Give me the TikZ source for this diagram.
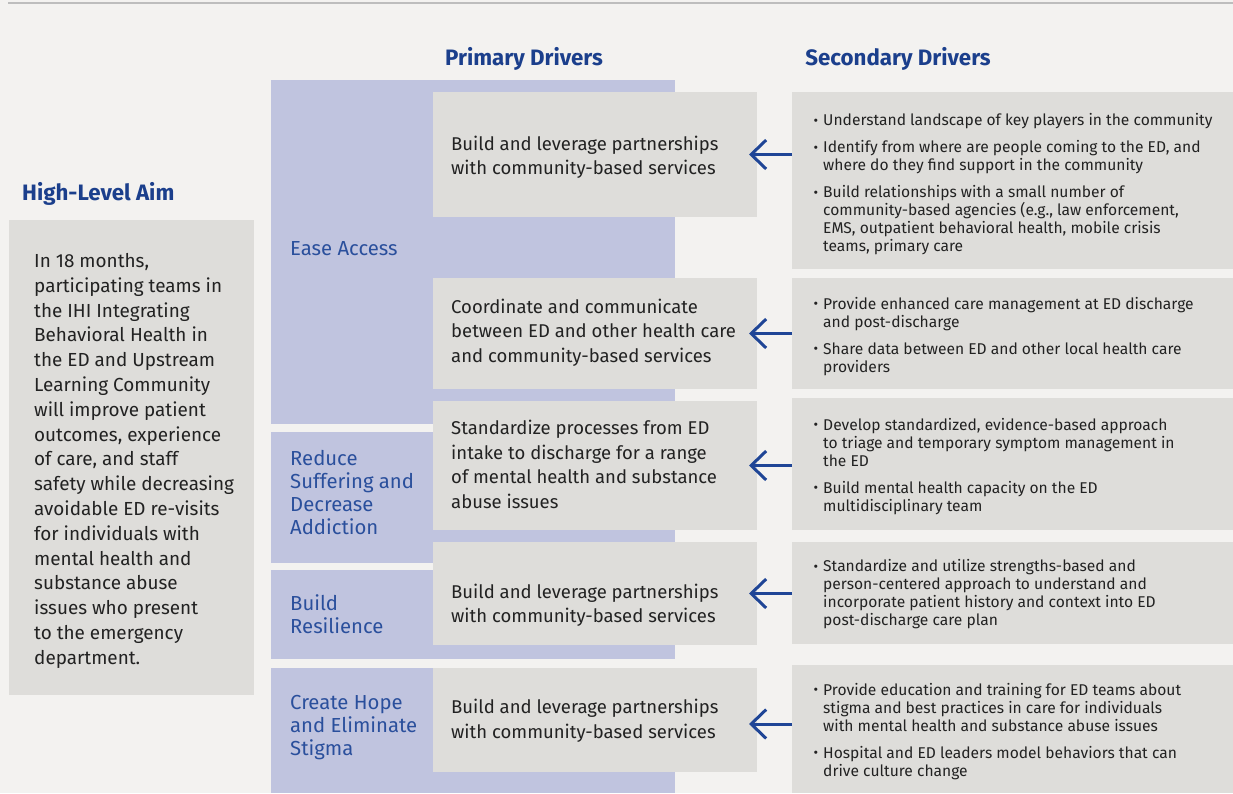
\documentclass[tikz,border=0pt]{standalone}
\usepackage{fontspec}
\setmainfont{Fira Sans}
\usetikzlibrary{arrows.meta}
\definecolor{bgc}{HTML}{F3F2F0}
\definecolor{boxc}{HTML}{DEDDDA}
\definecolor{purp}{HTML}{C0C4DF}
\definecolor{hdrc}{HTML}{1B3F8C}
\definecolor{lblc}{HTML}{2A4F9C}
\definecolor{txtc}{HTML}{222222}
\definecolor{arrc}{HTML}{1F4596}
\definecolor{linec}{HTML}{BDBDBD}
\newcommand{\sdbul}{\makebox[9pt][l]{\hspace*{-0.5pt}\raisebox{0.5pt}{\fontsize{14}{14}\selectfont •}}}
\newcommand{\sdind}{\hspace*{9pt}}
\begin{document}
\begin{tikzpicture}[x=1pt,y=-1pt,
  rect/.style 2 args={minimum width=#1pt, minimum height=#2pt, inner sep=0pt, outer sep=0pt, anchor=north west, draw=none},
  gbox/.style={fill=boxc},
  pblk/.style={fill=purp},
  hdr/.style={font=\fontsize{22.3}{25}\selectfont\bfseries, text=hdrc, inner sep=0pt},
  ptxt/.style={anchor=north west, inner sep=0pt, align=left, text=txtc, font=\fontsize{18.5}{24.6}\selectfont},
  atxt/.style={anchor=north west, inner sep=0pt, align=left, text=txtc, font=\fontsize{18.9}{24.8}\selectfont},
  ltxt/.style={anchor=north west, inner sep=0pt, align=left, text=lblc, font=\fontsize{20.3}{23.2}\selectfont},
  stxt/.style={anchor=north west, inner sep=0pt, align=left, text=txtc, font=\fontsize{15.6}{18}\selectfont},
  arr/.style={draw=arrc, line width=3pt, -{Straight Barb[length=15pt,width=29pt,line width=3pt]}}
]
\useasboundingbox (0,0) rectangle (1233,793);
\fill[bgc] (0,0) rectangle (1233,793);
\draw[linec, line width=1.5pt] (8,3) -- (1233,3);

% headers
\node[hdr, anchor=base] (hp) at (524,65.7) {Primary Drivers};
\node[hdr, anchor=base] (hs) at (898,65.7) {Secondary Drivers};
\node[hdr, anchor=base west] (ha) at (22,200.7) {High-Level Aim};

% aim
\node[rect={245}{475}, gbox] (aim) at (9,220) {};
\node[atxt] (aimt) at (34,248.4) {\rule{0pt}{18.9pt}In 18 months,\\
participating teams in\\
the IHI Integrating\\
Behavioral Health in\\
the ED and Upstream\\
Learning Community\\
will improve patient\\
outcomes, experience\\
of care, and staff\\
safety while decreasing\\
avoidable ED re-visits\\
for individuals with\\
mental health and\\
substance abuse\\
issues who present\\
to the emergency\\
department.};

% purple blocks
\node[rect={404}{344}, pblk] (b1) at (271,80) {};
\node[rect={404}{131}, pblk] (b2) at (271,432) {};
\node[rect={404}{89}, pblk] (b3) at (271,570) {};
\node[rect={404}{125}, pblk] (b4) at (271,668) {};

\node[ltxt] (l1) at (290,234.7) {\rule{0pt}{20.3pt}Ease Access};
\node[ltxt] (l2) at (290,444.7) {\rule{0pt}{20.3pt}Reduce\\Suffering and\\Decrease\\Addiction};
\node[ltxt] (l3) at (290,589.7) {\rule{0pt}{20.3pt}Build\\Resilience};
\node[ltxt] (l4) at (290,689) {\rule{0pt}{20.3pt}Create Hope\\and Eliminate\\Stigma};

% primary boxes
\node[rect={324}{125}, gbox] (p1) at (433,92) {};
\node[rect={324}{111}, gbox] (p2) at (433,278) {};
\node[rect={324}{129}, gbox] (p3) at (433,401) {};
\node[rect={324}{103}, gbox] (p4) at (433,542) {};
\node[rect={324}{104}, gbox] (p5) at (433,668) {};

\node[ptxt] (p1t) at (451,131.5) {\rule{0pt}{18.5pt}Build and leverage partnerships\\with community-based services};
\node[ptxt] (p2t) at (451,294.5) {\rule{0pt}{18.5pt}Coordinate and communicate\\between ED and other health care\\and community-based services};
\node[ptxt] (p3t) at (451,415.8) {\rule{0pt}{18.5pt}Standardize processes from ED\\intake to discharge for a range\\of mental health and substance\\abuse issues};
\node[ptxt] (p4t) at (451,579.5) {\rule{0pt}{18.5pt}Build and leverage partnerships\\with community-based services};
\node[ptxt] (p5t) at (451,694.8) {\rule{0pt}{18.5pt}Build and leverage partnerships\\with community-based services};

% secondary boxes
\node[rect={441}{177}, gbox] (s1) at (792,92) {};
\node[rect={441}{111}, gbox] (s2) at (792,278) {};
\node[rect={441}{132}, gbox] (s3) at (792,398) {};
\node[rect={441}{102}, gbox] (s4) at (792,542) {};
\node[rect={441}{128}, gbox] (s5) at (792,665) {};

\node[stxt] (s1t) at (814,109.7) {\rule{0pt}{15.6pt}\sdbul Understand landscape of key players in the community\\[9pt]
\sdbul Identify from where are people coming to the ED, and\\
\sdind where do they find support in the community\\[9pt]
\sdbul Build relationships with a small number of\\
\sdind community-based agencies (e.g., law enforcement,\\
\sdind EMS, outpatient behavioral health, mobile crisis\\
\sdind teams, primary care};
\node[stxt] (s2t) at (814,293.4) {\rule{0pt}{15.6pt}\sdbul Provide enhanced care management at ED discharge\\
\sdind and post-discharge\\[9pt]
\sdbul Share data between ED and other local health care\\
\sdind providers};
\node[stxt] (s3t) at (814,414.4) {\rule{0pt}{15.6pt}\sdbul Develop standardized, evidence-based approach\\
\sdind to triage and temporary symptom management in\\
\sdind the ED\\[9pt]
\sdbul Build mental health capacity on the ED\\
\sdind multidisciplinary team};
\node[stxt] (s4t) at (814,556.1) {\rule{0pt}{15.6pt}\sdbul Standardize and utilize strengths-based and\\
\sdind person-centered approach to understand and\\
\sdind incorporate patient history and context into ED\\
\sdind post-discharge care plan};
\node[stxt] (s5t) at (814,679.4) {\rule{0pt}{15.6pt}\sdbul Provide education and training for ED teams about\\
\sdind stigma and best practices in care for individuals\\
\sdind with mental health and substance abuse issues\\[9pt]
\sdbul Hospital and ED leaders model behaviors that can\\
\sdind drive culture change};

% arrows
\draw[arr] (p1.east -| s1.west) -- ([xshift=-8pt]p1.east);
\draw[arr] (p2.east -| s2.west) -- ([xshift=-8pt]p2.east);
\draw[arr] (p3.east -| s3.west) -- ([xshift=-8pt]p3.east);
\draw[arr] (p4.east -| s4.west) -- ([xshift=-8pt]p4.east);
\draw[arr] ([yshift=-4pt]p5.east -| s5.west) -- ([xshift=-8pt,yshift=-4pt]p5.east);
\end{tikzpicture}
\end{document}
